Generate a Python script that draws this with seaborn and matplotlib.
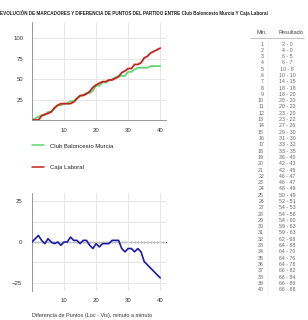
import matplotlib
matplotlib.use("Agg")
import matplotlib.pyplot as plt
import seaborn as sns
import pandas as pd
import numpy as np
from matplotlib.ticker import MultipleLocator
from matplotlib.lines import Line2D

minutes = list(range(0, 41))
murcia = [0, 2, 4, 6, 6, 10, 10, 14, 18, 18, 20, 20, 23, 23, 27, 29, 31, 33, 33, 36, 42,
          42, 46, 46, 48, 50, 52, 54, 54, 54, 59, 59, 62, 64, 64, 64, 64, 66, 66, 66, 66]
laboral = [0, 0, 0, 5, 7, 8, 10, 15, 18, 20, 20, 20, 20, 22, 26, 30, 30, 32, 35, 40, 43,
           45, 47, 47, 49, 49, 51, 53, 58, 60, 63, 63, 68, 68, 70, 76, 78, 82, 84, 86, 88]
team_names = ["Club Baloncesto Murcia", "Caja Laboral"]
team_colors = ["#5fd873", "#c8201e"]
diff_color = "#1a1aa8"
title_text = "EVOLUCIÓN DE MARCADORES Y DIFERENCIA DE PUNTOS DEL PARTIDO ENTRE Club Baloncesto Murcia Y Caja Laboral"
xlabel_text = "Diferencia de Puntos (Loc - Vis), minuto a minuto"
top_yticks = [25, 50, 75, 100]
bottom_yticks = [-25, 0, 25]
xticks = [10, 20, 30, 40]

sns.set_style("white")
plt.rcParams['font.family'] = ['Liberation Sans', 'DejaVu Sans']

W, H = 308, 320
fig = plt.figure(figsize=(W / 100, H / 100), dpi=100)

def box(l, t, r, b):
    return [l / W, 1 - b / H, (r - l) / W, (b - t) / H]

long = pd.DataFrame({
    "minute": minutes * 2,
    "points": murcia + laboral,
    "team": [team_names[0]] * len(minutes) + [team_names[1]] * len(minutes),
})
diff = pd.DataFrame({"minute": minutes,
                     "diff": [a - b for a, b in zip(murcia, laboral)]})

grid_kw = dict(color="#e2e2e2", lw=0.6)
tick_fs = 4.3

# top axes
ax1 = fig.add_axes(box(32, 22, 166, 120))
sns.lineplot(data=long, x="minute", y="points", hue="team", palette=team_colors,
             ax=ax1, lw=1.3, legend=False)
ax1.set_xlim(0, 41.8)
ax1.set_ylim(0, 120)
ax1.set_xticks(xticks)
ax1.set_yticks(top_yticks)
ax1.xaxis.set_minor_locator(MultipleLocator(1))
ax1.yaxis.set_minor_locator(MultipleLocator(5))
ax1.grid(True, which="major", **grid_kw)
ax1.set_xlabel("")
ax1.set_ylabel("")
for s in ["top", "right"]:
    ax1.spines[s].set_visible(False)
for s in ["left", "bottom"]:
    ax1.spines[s].set_color("#888888")
    ax1.spines[s].set_linewidth(0.6)
ax1.tick_params(which="both", length=2, width=0.5, color="#888888", labelsize=tick_fs,
                labelcolor="#333333")
ax1.tick_params(which="minor", length=1.5)
ax1.tick_params(axis="x", which="major", pad=4)
ax1.tick_params(axis="y", which="major", pad=4)

# legend
handles = [Line2D([], [], color=c, lw=1.1) for c in team_colors]
fig.legend(handles, team_names, loc="upper left", bbox_to_anchor=(27 / W, 1 - 138 / H),
           frameon=False, fontsize=4.3, handlelength=1.9, labelspacing=2.7,
           handletextpad=1.1, labelcolor="#222222")

# bottom axes
ax2 = fig.add_axes(box(32, 193, 166, 291))
sns.lineplot(data=diff, x="minute", y="diff", color=diff_color, ax=ax2, lw=1.2)
ax2.set_xlim(0, 41.8)
ax2.set_ylim(-30, 30)
ax2.set_xticks(xticks)
ax2.set_yticks(bottom_yticks)
ax2.set_yticks([-12.5, 12.5], minor=True)
ax2.grid(True, which="both", **grid_kw)
ax2.set_xlabel("")
ax2.set_ylabel("")
for s in ["top", "right", "bottom"]:
    ax2.spines[s].set_visible(False)
ax2.spines["left"].set_color("#888888")
ax2.spines["left"].set_linewidth(0.6)
ax2.tick_params(axis="x", which="both", length=0, labelsize=tick_fs, labelcolor="#333333", pad=5)
ax2.tick_params(axis="y", which="major", length=2, width=0.5, color="#888888",
                labelsize=tick_fs, labelcolor="#333333", pad=5)
ax2.tick_params(axis="y", which="minor", length=0)
sec = ax2.secondary_xaxis(0.5)
sec.set_xticks([])
sec.xaxis.set_minor_locator(MultipleLocator(1))
sec.spines["bottom"].set_color("#999999")
sec.spines["bottom"].set_linewidth(0.6)
sec.tick_params(which="minor", length=1.5, width=0.5, color="#999999", direction="inout")
ax2.lines[0].set_zorder(5)

fig.text(32 / W, 1 - 316 / H, xlabel_text, fontsize=4.0, color="#333333", va="center")

# title
fig.text(0, 1 - 13 / H, title_text, fontsize=3.3, fontweight="bold", color="#222222",
         va="center", ha="left")

# table
min_x = 264
res_x = 287
fig.text(262 / W, 1 - 33 / H, "Min.", fontsize=4.0, color="#444444", ha="center", va="center")
fig.text(291 / W, 1 - 33 / H, "Resultado", fontsize=4.0, color="#444444", ha="center", va="center")
fig.add_artist(Line2D([250 / W, 304 / W], [1 - 38 / H, 1 - 38 / H], color="#aaaaaa", lw=0.5))
fig.add_artist(Line2D([268 / W, 268 / W], [1 - 40 / H, 1 - 294 / H], color="#eeeeee", lw=0.5))
for i in range(1, 41):
    y = 1 - (44 + (i - 1) * 6.3) / H
    fig.text(min_x / W, y, str(i), fontsize=3.8, color="#666666", ha="right", va="center")
    fig.text(res_x / W, y, f"{murcia[i]} - {laboral[i]}", fontsize=3.8, color="#666666",
             ha="center", va="center")

fig.savefig("out.png", dpi=100)
